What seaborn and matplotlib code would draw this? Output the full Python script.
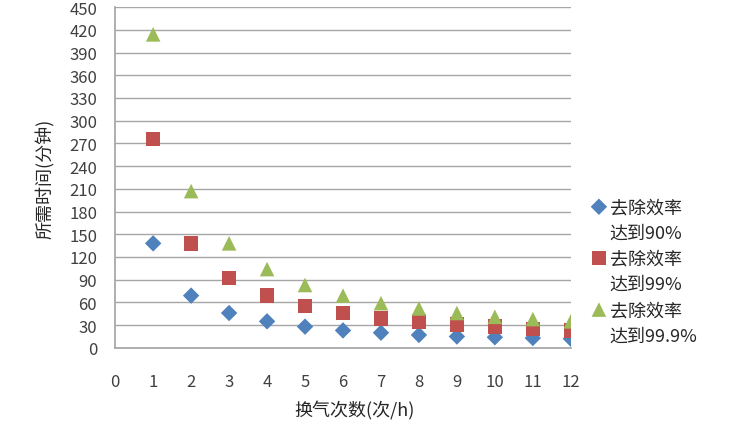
import pandas as pd
import matplotlib.pyplot as plt
import seaborn as sns

# 换气次数 (次/h)
huanqi = [1, 2, 3, 4, 5, 6, 7, 8, 9, 10, 11, 12]
# 所需时间 (分钟)
t_90 = [138, 69, 46, 35, 28, 23, 20, 17, 15, 14, 13, 12]
t_99 = [276, 138, 92, 69, 55, 46, 39, 35, 31, 28, 25, 23]
t_999 = [414, 207, 138, 104, 83, 69, 59, 52, 46, 41, 38, 35]
labels = ['去除效率\n达到90%', '去除效率\n达到99%', '去除效率\n达到99.9%']

sns.set_theme(style="white")
plt.rcParams['font.family'] = ['Noto Sans CJK SC', 'DejaVu Sans']

df = pd.DataFrame({
    'n': huanqi * 3,
    't': t_90 + t_99 + t_999,
    'grp': [labels[0]] * 12 + [labels[1]] * 12 + [labels[2]] * 12,
})

fig = plt.figure(figsize=(7.29, 4.27), dpi=100)
ax = fig.add_axes([0.158, 0.183, 0.625, 0.798])

colors = ['#4F81BD', '#C0504D', '#9BBB59']
markers = ['D', 's', '^']
sizes = [70, 110, 110]
for lab, c, m, s in zip(labels, colors, markers, sizes):
    sns.scatterplot(data=df[df['grp'] == lab], x='n', y='t', color=c, marker=m,
                    s=s, edgecolor='none', label=lab, ax=ax, zorder=3)

ax.set_xlim(0, 12)
ax.set_ylim(0, 450)
ax.set_xticks(range(0, 13))
ax.set_yticks(range(0, 451, 30))
ax.yaxis.grid(True, color='#a6a6a6', linewidth=1)
ax.set_axisbelow(True)
for sp in ['top', 'right']:
    ax.spines[sp].set_visible(False)
ax.spines['left'].set_color('#a6a6a6')
ax.spines['bottom'].set_color('#a6a6a6')
ax.tick_params(axis='x', length=0, pad=18, labelsize=12, colors='#404040')
ax.tick_params(axis='y', length=0, pad=13, labelsize=12, colors='#404040')
ax.set_xlabel('换气次数(次/h)', fontsize=13)
ax.set_ylabel('所需时间(分钟)', fontsize=13, labelpad=10)
ax.xaxis.set_label_coords(0.526, -0.155)

leg = ax.legend(loc='upper left', bbox_to_anchor=(1.03, 0.46), frameon=False,
                fontsize=13, handletextpad=0.2, labelspacing=0.45,
                handlelength=0.8, borderaxespad=0, scatteryoffsets=[1.6])
for t in leg.get_texts():
    t.set_linespacing(1.52)

plt.savefig('out.png', dpi=100)
plt.close()
